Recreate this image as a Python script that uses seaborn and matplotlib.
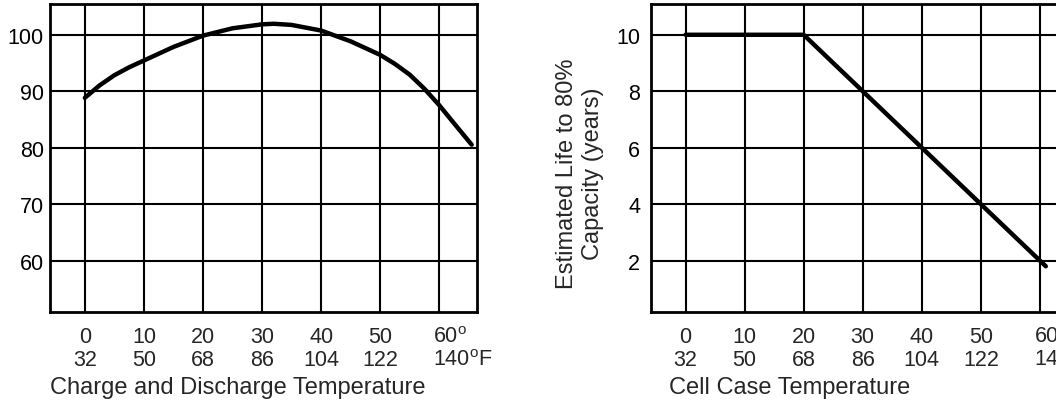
import matplotlib
matplotlib.use('Agg')
import matplotlib.pyplot as plt
import matplotlib.transforms as mtransforms
import seaborn as sns
import pandas as pd

# left chart: capacity (%) vs charge/discharge temperature (C)
cap_temp_c = [0, 2.5, 5, 7.5, 10, 15, 20, 25, 30, 32, 35, 40, 45, 50, 52.5, 55, 57.5, 60, 62.5, 65.5]
cap_pct = [88.8, 91.0, 92.8, 94.2, 95.4, 97.8, 99.8, 101.1, 101.8, 101.9, 101.7, 100.7, 98.8, 96.4, 94.8, 92.9, 90.4, 87.5, 84.3, 80.5]

# right chart: estimated life (years) vs cell case temperature (C)
life_temp_c = [0, 20, 30, 40, 50, 60, 61]
life_years = [10, 10, 8, 6, 4, 2, 1.8]

c_ticks = [0, 10, 20, 30, 40, 50, 60]
c_labels = ['0', '10', '20', '30', '40', '50', '60$^{\\mathrm{o}}$']
f_labels = ['32', '50', '68', '86', '104', '122', '140$^{\\mathrm{o}}$F']
cap_yticks = [60, 70, 80, 90, 100]
life_yticks = [2, 4, 6, 8, 10]

sns.set_style('white')
plt.rcParams['font.family'] = ['Liberation Sans', 'DejaVu Sans']
plt.rcParams['mathtext.fontset'] = 'custom'
plt.rcParams['mathtext.rm'] = 'Liberation Sans'
FS = 15.5
LFS = 17

fig = plt.figure(figsize=(10.56, 4.02), dpi=100)
ax1 = fig.add_axes([50 / 1056, 89 / 402, 427 / 1056, 308 / 402])
ax2 = fig.add_axes([650.7 / 1056, 89 / 402, 427 / 1056, 308 / 402])

df1 = pd.DataFrame({'temp': cap_temp_c, 'val': cap_pct})
df2 = pd.DataFrame({'temp': life_temp_c, 'val': life_years})
sns.lineplot(data=df1, x='temp', y='val', ax=ax1, color='black', linewidth=3.2, zorder=5)
sns.lineplot(data=df2, x='temp', y='val', ax=ax2, color='black', linewidth=3.2, zorder=5)

ax1.set_ylim(50.9, 105.4)
ax2.set_ylim(0.18, 11.09)
ax1.set_yticks(cap_yticks)
ax2.set_yticks(life_yticks)

for ax, pad in [(ax1, 4.5), (ax2, 7.5)]:
    ax.set_xlim(-5.9, 66.4)
    ax.set_xticks(c_ticks)
    ax.set_xticklabels([])
    ax.tick_params(axis='both', length=0, labelsize=FS, colors='black')
    ax.tick_params(axis='y', pad=pad)
    ax.grid(True, color='black', linewidth=1.5)
    ax.set_axisbelow(True)
    ax.set_xlabel('')
    ax.set_ylabel('')
    for s in ax.spines.values():
        s.set_color('black')
        s.set_linewidth(2)
    trans = mtransforms.blended_transform_factory(ax.transData, ax.transAxes)
    shift = mtransforms.ScaledTranslation(-6 / 100, 0, fig.dpi_scale_trans)
    for i, (x, cl, fl) in enumerate(zip(c_ticks, c_labels, f_labels)):
        if i == len(c_ticks) - 1:
            ax.text(x, -0.08, cl, transform=trans + shift, ha='left', va='center', fontsize=FS)
            ax.text(x, -0.155, fl, transform=trans + shift, ha='left', va='center', fontsize=FS)
        else:
            ax.text(x, -0.08, cl, transform=trans, ha='center', va='center', fontsize=FS)
            ax.text(x, -0.155, fl, transform=trans, ha='center', va='center', fontsize=FS)

ax1.text(0, -0.245, 'Charge and Discharge Temperature', transform=ax1.transAxes,
         ha='left', va='center', fontsize=LFS)
ax2.text(0.043, -0.245, 'Cell Case Temperature', transform=ax2.transAxes,
         ha='left', va='center', fontsize=LFS)
ax2.text(-0.166, 0.453, 'Estimated Life to 80%\nCapacity (years)', transform=ax2.transAxes,
         rotation=90, ha='center', va='center', multialignment='center', fontsize=LFS)

fig.savefig('out.png', dpi=100)
